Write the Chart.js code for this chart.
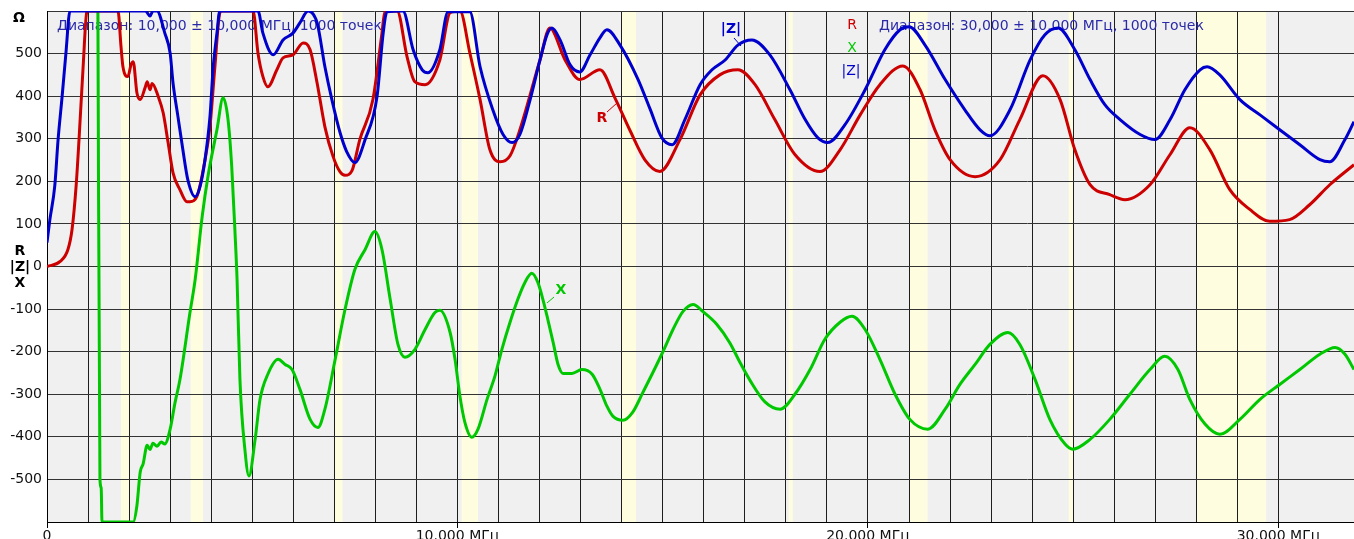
<!DOCTYPE html>
<html>
<head>
<meta charset="utf-8">
<script src="https://cdn.jsdelivr.net/npm/chart.js@4.4.0/dist/chart.umd.min.js"></script>
<style>
  html, body { margin: 0; padding: 0; background: #fff; }
  #wrap { width: 1354px; height: 539px; position: relative; }
</style>
</head>
<body>
<div id="wrap"><canvas id="c"></canvas></div>
<script>
// |Z| (blue), MHz / Ohm
const zFreq = [0,0.07,0.19,0.27,0.37,0.46,0.56,1.5,2.4,2.51,
  2.58,2.68,2.87,3.0,3.07,3.19,3.31,3.43,3.61,3.73,
  3.85,3.97,4.05,4.14,4.21,5.14,5.26,5.51,5.75,5.99,
  6.16,6.36,6.58,6.77,6.94,7.14,7.3,7.5,7.75,8.04,
  8.19,8.28,8.67,8.92,9.14,9.28,9.57,9.77,10.3,10.55,
  10.86,11.11,11.33,11.52,11.77,12.01,12.18,12.3,12.5,12.74,
  12.98,13.23,13.47,13.64,13.96,14.4,14.69,14.98,15.23,15.54,
  15.91,16.2,16.52,16.83,17.17,17.61,18.1,18.47,18.78,19.02,
  19.44,19.93,20.41,20.78,21.0,21.39,21.88,22.36,22.73,22.97,
  23.46,23.95,24.31,24.63,25.04,25.41,25.77,26.14,26.63,26.99,
  27.36,27.72,28.09,28.26,28.57,29.06,29.55,30.03,30.52,31.01,
  31.25,31.62,31.84];
const zVals = [56,110,190,298,401,500,600,600,600,588,
  600,600,548,501,431,352,274,204,164,188,
  251,352,469,548,600,600,548,497,532,548,
  572,600,572,469,392,314,270,244,298,399,
  548,598,600,509,462,455,509,598,598,469,
  368,310,291,310,392,485,544,560,532,474,
  457,497,537,556,520,439,370,302,286,345,
  427,462,485,520,532,497,415,345,302,291,
  333,415,509,556,563,520,439,368,321,307,
  368,485,544,560,509,439,380,345,310,298,
  345,415,462,469,450,392,356,321,286,251,
  246,298,340];

// R (red)
const rFreq = [0,0.32,0.51,0.61,0.71,0.78,0.88,0.97,1.0,1.73,
  1.8,1.85,1.97,2.05,2.1,2.19,2.27,2.39,2.44,2.51,
  2.56,2.71,2.83,2.95,3.07,3.24,3.41,3.48,3.65,3.85,
  3.97,4.09,4.21,4.25,5.02,5.14,5.26,5.38,5.6,5.75,
  5.99,6.24,6.41,6.58,6.77,6.97,7.14,7.26,7.43,7.62,
  7.94,8.16,8.23,8.53,8.77,8.96,9.21,9.57,9.82,10.06,
  10.3,10.55,10.79,11.04,11.28,11.52,12.01,12.25,12.62,12.98,
  13.47,13.84,14.2,14.57,14.93,15.42,15.91,16.39,16.83,17.25,
  17.73,18.22,18.83,19.32,19.81,20.29,20.85,21.27,21.63,22.0,
  22.61,23.22,23.7,24.26,24.68,25.04,25.41,25.89,26.26,26.87,
  27.36,27.84,28.33,28.81,29.3,29.79,30.27,30.76,31.25,31.84];
const rVals = [0,12,40,87,190,298,469,598,600,600,
  520,469,446,475,481,408,392,420,434,415,
  430,399,361,291,220,180,152,152,164,251,
  328,469,596,600,600,501,446,422,462,490,
  497,525,509,431,328,258,222,214,225,298,
  392,548,598,600,493,434,427,485,596,600,
  502,392,274,246,260,321,485,560,485,439,
  462,395,320,250,223,298,403,450,462,427,
  345,263,223,274,356,427,471,415,321,251,
  211,251,345,448,392,274,192,169,157,192,
  263,326,274,181,134,106,110,145,192,239];

// X (green)
const xFreq = [1.24,1.29,1.32,1.34,2.1,2.19,2.27,2.34,2.44,2.51,
  2.58,2.68,2.78,2.87,3.0,3.12,3.24,3.48,3.61,3.78,
  3.92,4.14,4.29,4.41,4.5,4.58,4.63,4.7,4.82,4.92,
  5.07,5.19,5.38,5.63,5.8,5.97,6.16,6.41,6.6,6.77,
  7.02,7.26,7.5,7.75,7.99,8.16,8.36,8.55,8.72,8.96,
  9.21,9.45,9.57,9.82,9.94,10.06,10.18,10.35,10.5,10.72,
  10.91,11.08,11.28,11.47,11.64,11.81,11.96,12.08,12.2,12.33,
  12.45,12.57,12.79,13.03,13.28,13.47,13.64,13.79,14.03,14.27,
  14.52,14.76,15.01,15.25,15.49,15.74,15.98,16.32,16.64,16.88,
  17.13,17.49,17.86,18.22,18.59,18.95,19.32,19.61,19.93,20.29,
  20.66,21.02,21.46,21.88,22.24,22.61,22.97,23.41,23.7,24.07,
  24.43,24.8,24.99,25.41,25.89,26.38,26.87,27.23,27.55,27.84,
  28.21,28.57,29.06,29.55,30.03,30.52,31.01,31.38,31.62,31.84];
const xVals = [600,-500,-520,-600,-600,-562,-483,-464,-420,-430,
  -415,-422,-412,-417,-382,-319,-265,-110,-30,117,
  211,321,396,345,235,80,-30,-265,-429,-492,
  -406,-312,-253,-218,-230,-242,-288,-359,-378,-335,
  -218,-101,-7,40,82,40,-77,-183,-213,-195,
  -148,-108,-103,-155,-218,-305,-366,-401,-382,-312,
  -258,-195,-131,-77,-38,-16,-38,-77,-124,-178,
  -230,-251,-251,-242,-253,-288,-328,-352,-361,-342,
  -295,-249,-199,-148,-106,-89,-106,-136,-180,-225,
  -268,-318,-335,-300,-242,-171,-131,-117,-148,-218,
  -300,-359,-382,-335,-277,-230,-183,-155,-183,-265,
  -359,-417,-429,-406,-359,-300,-242,-211,-242,-312,
  -370,-394,-359,-312,-277,-242,-206,-190,-206,-242];

// amateur bands, MHz
const bands = [[1.8,2.0],[3.5,3.8],[7.0,7.2],[10.1,10.5],[14.0,14.35],
  [18.068,18.168],[21.0,21.45],[24.89,24.99],[28.0,29.7]];

const xMin = 0, xMax = 31.84;
const yMin = -600, yMax = 600;
const rangeNotes = ['Диапазон: 10,000 ± 10,000 МГц, 1000 точек', 'Диапазон: 30,000 ± 10,000 МГц, 1000 точек'];

const FONT = "'DejaVu Sans', 'Liberation Sans', sans-serif";
const BLUE = '#0000cc', RED = '#cc0000', GREEN = '#00c800';

const toPoints = (fs, vs) => fs.map((f, i) => ({ x: f, y: vs[i] }));

const decor = {
  id: 'decor',
  beforeDraw(chart) {
    const { ctx, chartArea: a, scales: { x } } = chart;
    ctx.save();
    ctx.fillStyle = '#f0f0f0';
    ctx.fillRect(a.left, a.top, a.right - a.left, a.bottom - a.top);
    ctx.fillStyle = '#fffde0';
    bands.forEach(([lo, hi]) => {
      const x0 = x.getPixelForValue(lo), x1 = x.getPixelForValue(hi);
      ctx.fillRect(x0, a.top, x1 - x0, a.bottom - a.top);
    });
    ctx.restore();
  },
  // the range notes sit under the curves
  beforeDatasetsDraw(chart) {
    const { ctx } = chart;
    ctx.save();
    ctx.font = '14px ' + FONT;
    ctx.fillStyle = '#2a2aa8';
    ctx.textBaseline = 'middle';
    ctx.fillText(rangeNotes[0], 57, 26);
    ctx.fillText(rangeNotes[1], 879, 26);
    ctx.restore();
  },
  afterDatasetsDraw(chart) {
    const { ctx } = chart;
    ctx.save();
    ctx.textBaseline = 'middle';
    ctx.textAlign = 'center';

    // legend
    ctx.font = '14px ' + FONT;
    ctx.fillStyle = RED;   ctx.fillText('R', 852, 25);
    ctx.fillStyle = GREEN; ctx.fillText('X', 852, 48);
    ctx.fillStyle = BLUE;  ctx.fillText('|Z|', 851, 71);

    // axis caption
    ctx.font = 'bold 14px ' + FONT;
    ctx.fillStyle = '#000';
    ctx.fillText('Ω', 19, 18);
    ctx.fillText('R', 20, 251);
    ctx.fillText('|Z|', 20, 267);
    ctx.fillText('X', 20, 283);

    // curve labels with leaders
    const tag = (txt, color, tx, ty, x0, y0, x1, y1) => {
      ctx.fillStyle = color;
      ctx.fillText(txt, tx, ty);
      ctx.strokeStyle = color;
      ctx.lineWidth = 1;
      ctx.beginPath();
      ctx.moveTo(x0, y0);
      ctx.lineTo(x1, y1);
      ctx.stroke();
    };
    tag('|Z|', BLUE, 731, 29, 734, 38, 741, 46);
    tag('R', RED, 602, 118, 607, 112, 617, 103);
    tag('X', GREEN, 561, 290, 554, 297, 547, 303);
    ctx.restore();
  }
};

new Chart(document.getElementById('c'), {
  type: 'line',
  data: {
    datasets: [
      { label: '|Z|', data: toPoints(zFreq, zVals), borderColor: BLUE, order: 1 },
      { label: 'R', data: toPoints(rFreq, rVals), borderColor: RED, order: 2 },
      { label: 'X', data: toPoints(xFreq, xVals), borderColor: GREEN, order: 3 }
    ]
  },
  options: {
    responsive: true,
    maintainAspectRatio: false,
    animation: false,
    layout: { padding: { top: 11, right: 0, bottom: 0, left: 0 } },
    elements: {
      point: { radius: 0 },
      line: { borderWidth: 3, cubicInterpolationMode: 'monotone', fill: false }
    },
    plugins: { legend: { display: false }, tooltip: { enabled: false } },
    scales: {
      x: {
        type: 'linear',
        min: xMin,
        max: xMax,
        afterFit: s => { s.height = 17; s.paddingLeft = 0; s.paddingRight = 0; },
        border: { display: true, color: '#000', width: 1 },
        grid: {
          color: c => Number.isInteger(c.tick.value) ? '#1e1e1e' : 'transparent',
          tickColor: c => c.tick.value % 10 === 0 ? '#000' : 'transparent',
          tickLength: 6,
          drawTicks: true
        },
        ticks: {
          stepSize: 1,
          autoSkip: false,
          maxRotation: 0,
          padding: 0,
          color: '#111',
          font: { family: FONT, size: 14 },
          callback: v => v === 0 ? '0' : (v % 10 === 0 ? v.toFixed(3) + ' МГц' : '')
        }
      },
      y: {
        min: yMin,
        max: yMax,
        afterFit: s => { s.width = 47; s.paddingTop = 0; s.paddingBottom = 0; },
        border: { display: true, color: '#000', width: 1 },
        grid: { color: '#333', drawTicks: false },
        ticks: {
          stepSize: 100,
          padding: 5,
          color: '#111',
          font: { family: FONT, size: 14 },
          callback: v => (v === yMax || v === yMin) ? '' : String(v)
        }
      }
    }
  },
  plugins: [decor]
});
</script>
</body>
</html>
